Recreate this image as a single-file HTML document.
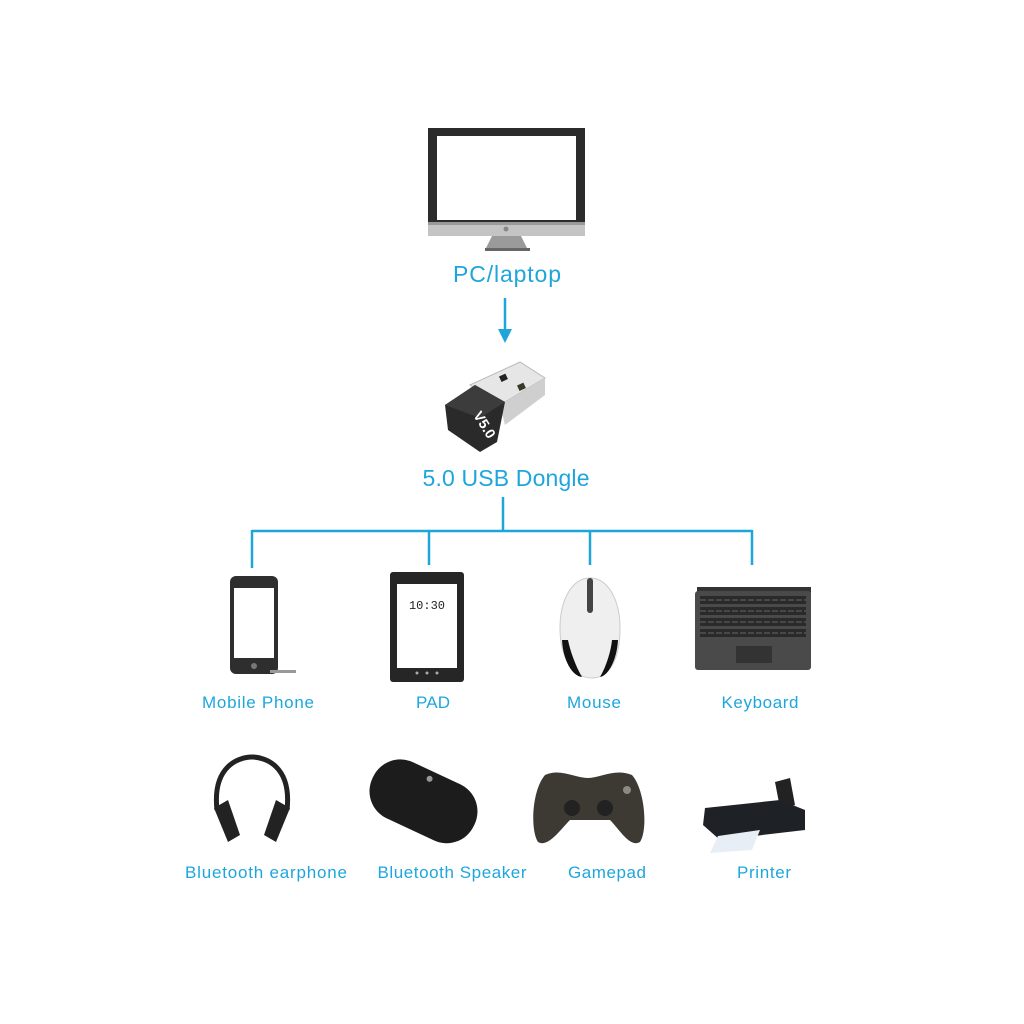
<!DOCTYPE html>
<html><head><style>html,body{margin:0;padding:0;background:#fff}svg{display:block}text{font-family:"Liberation Sans",sans-serif;fill:#1ea6dc}</style></head>
<body>
<svg width="1024" height="1024" viewBox="0 0 1024 1024" xmlns="http://www.w3.org/2000/svg">
<rect width="1024" height="1024" fill="#fff"/>
<!-- Monitor -->
<rect x="428" y="128" width="157" height="96" fill="#2b2b2b"/>
<rect x="437" y="136" width="139" height="84" fill="#fff"/>
<rect x="428" y="222" width="157" height="14" fill="#c4c4c4"/>
<rect x="428" y="222" width="157" height="3" fill="#999"/>
<circle cx="506" cy="229" r="2.5" fill="#888"/>
<polygon points="492,236 521,236 528,250 485,250" fill="#9a9a9a"/>
<rect x="485" y="248" width="45" height="3" fill="#666"/>
<text x="507" y="282" font-size="23" text-anchor="middle" textLength="108">PC/laptop</text>
<!-- arrow -->
<line x1="505" y1="298" x2="505" y2="332" stroke="#1ea6dc" stroke-width="2.5"/>
<polygon points="498,329 505,343 512,329" fill="#1ea6dc"/>
<!-- dongle -->
<polygon points="470,385 520,362 545,378 500,405" fill="#e6e6e6" stroke="#bbb"/>
<polygon points="500,405 545,378 545,395 505,425" fill="#cfcfcf"/>
<rect x="500" y="375" width="7" height="6" fill="#222" transform="rotate(-25 503 378)"/>
<rect x="518" y="384" width="7" height="6" fill="#3a3a2a" transform="rotate(-25 521 387)"/>
<polygon points="445,405 475,385 505,402 497,442 480,452 448,430" fill="#2a2a2a"/>
<polygon points="445,405 475,385 505,402 480,418" fill="#3c3c3c"/>
<text x="478" y="418" font-size="14" font-weight="bold" style="fill:#fff" transform="rotate(58 478 412)">V5.0</text>
<text x="506" y="486" font-size="23" text-anchor="middle" textLength="167">5.0 USB Dongle</text>
<!-- tree -->
<g stroke="#1ea6dc" stroke-width="2.5" fill="none">
<line x1="503" y1="497" x2="503" y2="531"/>
<line x1="252" y1="531" x2="752" y2="531"/>
<line x1="252" y1="530" x2="252" y2="568"/>
<line x1="429" y1="530" x2="429" y2="565"/>
<line x1="590" y1="530" x2="590" y2="565"/>
<line x1="752" y1="530" x2="752" y2="565"/>
</g>
<!-- phone -->
<rect x="230" y="576" width="48" height="98" rx="6" fill="#2e2e2e"/>
<rect x="234" y="588" width="40" height="70" fill="#fff"/>
<circle cx="254" cy="666" r="3" fill="#777"/>
<rect x="270" y="670" width="26" height="3" fill="#999"/>
<!-- pad -->
<rect x="390" y="572" width="74" height="110" rx="3" fill="#262626"/>
<rect x="397" y="584" width="60" height="84" fill="#fff"/>
<text x="427" y="609" font-size="12" text-anchor="middle" style="fill:#222;font-family:'Liberation Mono',monospace">10:30</text>
<circle cx="417" cy="673" r="1.5" fill="#aaa"/><circle cx="427" cy="673" r="1.5" fill="#aaa"/><circle cx="437" cy="673" r="1.5" fill="#aaa"/>
<!-- mouse -->
<path d="M590,578 C572,578 560,600 560,628 C560,660 575,678 592,678 C609,678 620,660 620,628 C620,600 608,578 590,578Z" fill="#efefef" stroke="#ccc"/>
<path d="M562,640 C563,660 572,676 582,677 C575,665 570,650 568,640Z" fill="#111"/>
<path d="M618,640 C617,660 608,676 600,677 C607,665 611,650 612,640Z" fill="#111"/>
<rect x="587" y="578" width="6" height="35" rx="3" fill="#444"/>
<!-- keyboard -->
<rect x="697" y="587" width="114" height="6" fill="#333"/>
<rect x="695" y="591" width="116" height="79" rx="3" fill="#4a4a4a"/>
<g fill="#2a2a2a">
<rect x="700" y="596" width="106" height="8"/><rect x="700" y="607" width="106" height="8"/><rect x="700" y="618" width="106" height="8"/><rect x="700" y="629" width="106" height="8"/>
</g>
<g stroke="#5a5a5a" stroke-width="1.2" stroke-dasharray="6 2">
<line x1="700" y1="600" x2="806" y2="600"/><line x1="700" y1="611" x2="806" y2="611"/><line x1="700" y1="622" x2="806" y2="622"/><line x1="700" y1="633" x2="806" y2="633"/>
</g>
<rect x="736" y="646" width="36" height="17" fill="#333"/>
<!-- row1 labels -->
<g font-size="17">
<text x="258" y="708" text-anchor="middle" textLength="112">Mobile Phone</text>
<text x="433" y="708" text-anchor="middle" textLength="34">PAD</text>
<text x="594" y="708" text-anchor="middle" textLength="54">Mouse</text>
<text x="760" y="708" text-anchor="middle" textLength="77">Keyboard</text>
</g>
<!-- headphones -->
<path d="M217,810 C212,765 240,757 252,757 C264,757 292,765 287,810" fill="none" stroke="#222" stroke-width="5"/>
<polygon points="214,808 228,800 240,835 228,842" fill="#222"/>
<polygon points="290,808 276,800 264,835 276,842" fill="#222"/>
<!-- speaker -->
<g transform="rotate(25 423 800)">
<rect x="368" y="770" width="112" height="62" rx="30" fill="#1c1c1c"/>
<circle cx="420" cy="778" r="3" fill="#999"/>
</g>
<!-- gamepad -->
<path d="M545,775 C560,768 575,778 588,778 C600,778 615,768 632,775 C645,790 648,830 640,842 C630,848 620,830 610,820 L570,820 C560,830 548,848 538,842 C530,830 532,790 545,775Z" fill="#3d3a33"/>
<circle cx="572" cy="808" r="8" fill="#222"/><circle cx="605" cy="808" r="8" fill="#222"/>
<circle cx="627" cy="790" r="4" fill="#8a8a80"/>
<!-- printer -->
<polygon points="775,782 790,778 795,805 780,808" fill="#222"/>
<polygon points="705,808 780,800 805,810 805,830 720,840 703,825" fill="#1e2226"/>
<polygon points="718,836 760,830 752,850 710,853" fill="#e8eef5"/>
<!-- row2 labels -->
<g font-size="17">
<text x="266" y="878" text-anchor="middle" textLength="162">Bluetooth earphone</text>
<text x="452" y="878" text-anchor="middle" textLength="149">Bluetooth Speaker</text>
<text x="607" y="878" text-anchor="middle" textLength="78">Gamepad</text>
<text x="764" y="878" text-anchor="middle" textLength="54">Printer</text>
</g>
</svg>
</body></html>
